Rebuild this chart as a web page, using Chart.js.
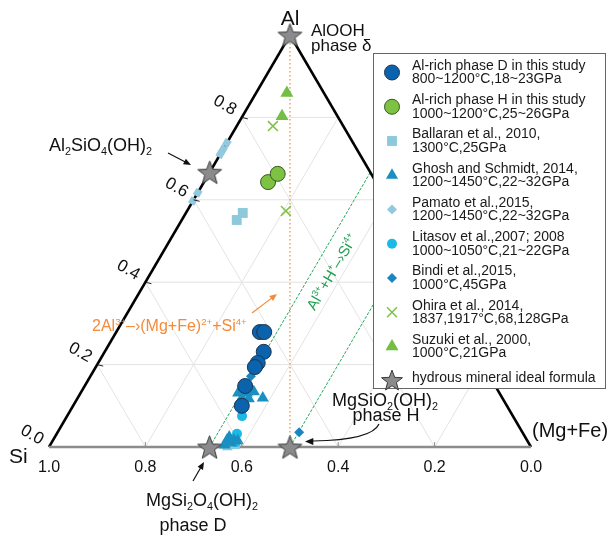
<!DOCTYPE html>
<html>
<head>
<meta charset="utf-8">
<script src="https://cdn.jsdelivr.net/npm/chart.js@4.4.0/dist/chart.umd.min.js"></script>
<style>
html, body { margin: 0; padding: 0; background: #fff; }
#wrap { width: 614px; height: 536px; }
</style>
</head>
<body>
<div id="wrap"><canvas id="ternario" width="614" height="536"></canvas></div>
<script>
const faseD = [[0.423, 0.279, 0.298], [0.414, 0.279, 0.307], [0.439, 0.231, 0.330], [0.465, 0.204, 0.331],
               [0.476, 0.194, 0.330], [0.519, 0.148, 0.333], [0.550, 0.100, 0.350]];
const faseH = [[0.224, 0.643, 0.133], [0.194, 0.663, 0.143]];
const ballaran = [[0.335, 0.551, 0.114], [0.314, 0.568, 0.118], [0.621, 0.007, 0.372], [0.611, 0.007, 0.382],
                  [0.628, 0.004, 0.368]];
const ghosh = [[0.542, 0.131, 0.327], [0.524, 0.131, 0.345], [0.508, 0.134, 0.358], [0.497, 0.119, 0.384],
               [0.527, 0.117, 0.356], [0.540, 0.119, 0.341], [0.622, 0.017, 0.361], [0.608, 0.017, 0.375],
               [0.633, 0.005, 0.362], [0.618, 0.010, 0.372], [0.601, 0.015, 0.384], [0.614, 0.024, 0.362]];
const pamato = [[0.262, 0.738, 0], [0.277, 0.723, 0], [0.289, 0.711, 0], [0.383, 0.617, 0], [0.403, 0.597, 0]];
const litasov = [[0.562, 0.075, 0.363], [0.594, 0.032, 0.374], [0.606, 0.012, 0.382]];
const bindi = [[0.495, 0.172, 0.333], [0.463, 0.036, 0.501]];
const ohira = [[0.146, 0.779, 0.075], [0.222, 0.573, 0.205]];
const suzuki = [[0.077, 0.859, 0.064], [0.115, 0.803, 0.082]];
const formulaIdeal = [[0, 1, 0], [0.333, 0.667, 0], [0.667, 0, 0.333], [0.5, 0, 0.5]];

const valoresRejilla = [0.2, 0.4, 0.6, 0.8];
const ticksSi = [1.0, 0.8, 0.6, 0.4, 0.2, 0.0];
const ticksAl = [0.0, 0.2, 0.4, 0.6, 0.8];

const etiquetasLeyenda = [
    ['Al-rich phase D in this study', '800~1200°C,18~23GPa'],
    ['Al-rich phase H in this study', '1000~1200°C,25~26GPa'],
    ['Ballaran et al., 2010,', '1300°C,25GPa'],
    ['Ghosh and Schmidt, 2014,', '1200~1450°C,22~32GPa'],
    ['Pamato et al.,2015,', '1200~1450°C,22~32GPa'],
    ['Litasov et al.,2007; 2008', '1000~1050°C,21~22GPa'],
    ['Bindi et al.,2015,', '1000°C,45GPa'],
    ['Ohira et al., 2014,', '1837,1917°C,68,128GPa'],
    ['Suzuki et al., 2000,', '1000°C,21GPa'],
    ['hydrous mineral ideal formula']
];

const FUENTE = '"Liberation Sans", Arial, sans-serif';
const fuente = (s) => s + 'px ' + FUENTE;

// Paso de composición ternaria a coordenadas (x, y) del triángulo
function aXY(c) {
    const s = c[0] + c[1] + c[2];
    return { x: (c[2] + c[1] / 2) / s, y: c[1] / s };
}

function crearEstrella(R) {
    const c = document.createElement('canvas');
    const s = Math.ceil(R * 2 + 4);
    c.width = s; c.height = s;
    const g = c.getContext('2d');
    g.translate(s / 2, s / 2 + R * 0.1);
    g.beginPath();
    for (let i = 0; i < 10; i++) {
        const r = i % 2 === 0 ? R : R * 0.42;
        const a = -Math.PI / 2 + i * Math.PI / 5;
        g.lineTo(Math.cos(a) * r, Math.sin(a) * r);
    }
    g.closePath();
    g.fillStyle = '#8b8b8e';
    g.fill();
    g.lineWidth = 1;
    g.strokeStyle = '#3a3a3a';
    g.stroke();
    return c;
}

const estrella = crearEstrella(12.5);
const estrellaLeyenda = crearEstrella(11);

// Series de puntos con su estilo
const series = [
    { datos: faseD, estilo: { pointStyle: 'circle', radius: 7.5, fondo: '#0b63ad', borde: '#1b3552', ancho: 1 }, orden: 2 },
    { datos: faseH, estilo: { pointStyle: 'circle', radius: 7.5, fondo: '#7dc243', borde: '#3a5a1f', ancho: 1 }, orden: 2 },
    { datos: ballaran, estilo: { pointStyle: 'rect', radius: 7, fondo: '#8ccadb', borde: '#8ccadb', ancho: 0 }, orden: 4 },
    { datos: ghosh, estilo: { pointStyle: 'triangle', radius: 7, fondo: '#1a8fc1', borde: '#1a8fc1', ancho: 0 }, orden: 3 },
    { datos: pamato, estilo: { pointStyle: 'rect', radius: 5, rotation: 30, fondo: '#92c9de', borde: '#92c9de', ancho: 0 }, orden: 4, rotLeyenda: 45 },
    { datos: litasov, estilo: { pointStyle: 'circle', radius: 5, fondo: '#1cb8e6', borde: '#1cb8e6', ancho: 0 }, orden: 3 },
    { datos: bindi, estilo: { pointStyle: 'rectRot', radius: 5, fondo: '#1a86c1', borde: '#1a86c1', ancho: 0 }, orden: 3 },
    { datos: ohira, estilo: { pointStyle: 'crossRot', radius: 7, fondo: '#7dc243', borde: '#7dc243', ancho: 1.5 }, orden: 3 },
    { datos: suzuki, estilo: { pointStyle: 'triangle', radius: 7.5, fondo: '#72bf44', borde: '#72bf44', ancho: 0 }, orden: 3 },
    { datos: formulaIdeal, estilo: { pointStyle: estrella, radius: 12, fondo: '#8b8b8e', borde: '#3a3a3a', ancho: 1 }, orden: 1, imgLeyenda: estrellaLeyenda }
];

function linea(a, b, color, ancho, trazo, orden) {
    return {
        type: 'scatter',
        data: [aXY(a), aXY(b)],
        showLine: true,
        pointRadius: 0,
        borderColor: color,
        borderWidth: ancho,
        borderDash: trazo || [],
        fill: false,
        clip: false,
        order: orden
    };
}

const datasets = [];

// Rejilla interior
valoresRejilla.forEach(v => {
    datasets.push(linea([1 - v, v, 0], [0, v, 1 - v], '#e3e3e3', 1, null, 30));
    datasets.push(linea([v, 1 - v, 0], [v, 0, 1 - v], '#e3e3e3', 1, null, 30));
    datasets.push(linea([1 - v, 0, v], [0, 1 - v, v], '#e3e3e3', 1, null, 30));
});

// Líneas de sustitución
datasets.push(linea([0, 1, 0], [0.5, 0, 0.5], '#f5a15a', 1.5, [1.5, 2.5], 20));
datasets.push(linea([2 / 3, 0, 1 / 3], [0, 2 / 3, 1 / 3], '#22a85a', 1, [3, 1.5], 20));
datasets.push(linea([0.5, 0, 0.5], [0, 0.5, 0.5], '#22a85a', 1, [3, 1.5], 20));

// Bordes del triángulo
datasets.push(linea([1, 0, 0], [0, 0, 1], '#8c8c8c', 2.5, null, 15));
datasets.push(linea([1, 0, 0], [0, 1, 0], '#000000', 2.5, null, 15));
datasets.push(linea([0, 1, 0], [0, 0, 1], '#000000', 2.5, null, 15));

series.forEach((s, i) => {
    datasets.push({
        type: 'scatter',
        label: etiquetasLeyenda[i].join(' '),
        data: s.datos.map(aXY),
        showLine: false,
        pointStyle: s.estilo.pointStyle,
        pointRadius: s.estilo.radius,
        pointRotation: s.estilo.rotation || 0,
        backgroundColor: s.estilo.fondo,
        borderColor: s.estilo.borde,
        borderWidth: s.estilo.ancho,
        clip: false,
        order: s.orden
    });
});

function flecha(ctx, x1, y1, x2, y2, color, cabeza) {
    const ang = Math.atan2(y2 - y1, x2 - x1);
    ctx.strokeStyle = color;
    ctx.fillStyle = color;
    ctx.lineWidth = 1.2;
    ctx.beginPath();
    ctx.moveTo(x1, y1);
    ctx.lineTo(x2 - Math.cos(ang) * cabeza * 0.8, y2 - Math.sin(ang) * cabeza * 0.8);
    ctx.stroke();
    puntaFlecha(ctx, x2, y2, ang, cabeza);
}

function puntaFlecha(ctx, x, y, ang, cabeza) {
    ctx.beginPath();
    ctx.moveTo(x, y);
    ctx.lineTo(x - Math.cos(ang - 0.4) * cabeza, y - Math.sin(ang - 0.4) * cabeza);
    ctx.lineTo(x - Math.cos(ang + 0.4) * cabeza, y - Math.sin(ang + 0.4) * cabeza);
    ctx.closePath();
    ctx.fill();
}

// Texto con subíndices y superíndices
function textoRico(ctx, partes, x, y, size, align) {
    const medir = p => { ctx.font = fuente(p[1] ? size * 0.6 : size); return ctx.measureText(p[0]).width; };
    const total = partes.reduce((s, p) => s + medir(p), 0);
    let cx = align === 'center' ? x - total / 2 : x;
    ctx.textAlign = 'left';
    ctx.textBaseline = 'alphabetic';
    partes.forEach(p => {
        const w = medir(p);
        const dy = p[1] === 'sub' ? size * 0.22 : p[1] === 'sup' ? -size * 0.4 : 0;
        ctx.fillText(p[0], cx, y + dy);
        cx += w;
    });
}

const decoracion = {
    id: 'decoracion',
    afterDatasetsDraw(chart) {
        const ctx = chart.ctx;
        const xs = chart.scales.x, ys = chart.scales.y;
        const P = c => { const q = aXY(c); return { x: xs.getPixelForValue(q.x), y: ys.getPixelForValue(q.y) }; };
        ctx.save();

        // Marcas del eje inferior
        ctx.strokeStyle = '#8c8c8c';
        ctx.lineWidth = 1;
        ticksSi.forEach(si => {
            if (si === 0 || si === 1) return;
            const p = P([si, 0, 1 - si]);
            ctx.beginPath(); ctx.moveTo(p.x, p.y); ctx.lineTo(p.x, p.y - 5); ctx.stroke();
        });
        // Marcas del eje izquierdo
        ctx.strokeStyle = '#222';
        ticksAl.forEach(al => {
            if (!al) return;
            const p = P([1 - al, al, 0]);
            ctx.beginPath(); ctx.moveTo(p.x, p.y); ctx.lineTo(p.x + 6, p.y + 1.5); ctx.stroke();
        });

        // Etiquetas de las marcas
        ctx.fillStyle = '#111';
        ctx.font = fuente(16);
        ctx.textAlign = 'center';
        ctx.textBaseline = 'alphabetic';
        ticksSi.forEach(si => {
            const p = P([si, 0, 1 - si]);
            ctx.fillText(si.toFixed(1), p.x, p.y + 25);
        });
        ticksAl.forEach(al => {
            const p = P([1 - al, al, 0]);
            ctx.save();
            ctx.translate(p.x - 17, p.y - 12);
            ctx.rotate(Math.PI / 6);
            ctx.textBaseline = 'middle';
            ctx.font = fuente(17);
            ctx.fillText(al.toFixed(1), 0, 0);
            ctx.restore();
        });

        // Vértices
        ctx.fillStyle = '#111';
        ctx.textAlign = 'center';
        ctx.font = fuente(21);
        ctx.fillText('Al', 290, 25);
        ctx.textAlign = 'left';
        ctx.fillText('Si', 9, 463);
        ctx.font = fuente(20);
        ctx.fillText('(Mg+Fe)', 532, 437);

        // Nombres de minerales
        ctx.font = fuente(17);
        ctx.fillText('AlOOH', 311, 36);
        ctx.fillText('phase δ', 311, 51);
        textoRico(ctx, [['Al', ''], ['2', 'sub'], ['SiO', ''], ['4', 'sub'], ['(OH)', ''], ['2', 'sub']], 49, 151, 18, 'left');
        flecha(ctx, 168, 153, 191, 165, '#111', 8);

        textoRico(ctx, [['MgSi', ''], ['2', 'sub'], ['O', ''], ['4', 'sub'], ['(OH)', ''], ['2', 'sub']], 202, 506, 18, 'center');
        ctx.font = fuente(18);
        ctx.textAlign = 'center';
        ctx.fillText('phase D', 193, 531);
        flecha(ctx, 193, 481, 204, 462, '#111', 8);

        textoRico(ctx, [['MgSiO', ''], ['2', 'sub'], ['(OH)', ''], ['2', 'sub']], 385, 406, 18, 'center');
        ctx.font = fuente(18);
        ctx.textAlign = 'center';
        ctx.fillText('phase H', 386, 421);
        ctx.strokeStyle = '#111';
        ctx.lineWidth = 1.2;
        ctx.beginPath();
        ctx.moveTo(379, 424);
        ctx.quadraticCurveTo(372, 440, 313, 441);
        ctx.stroke();
        ctx.fillStyle = '#111';
        puntaFlecha(ctx, 305, 441.5, Math.PI, 9);

        // Sustitución 2Al -> (Mg+Fe) + Si
        ctx.fillStyle = '#f58a3a';
        textoRico(ctx, [['2Al', ''], ['3+', 'sup'], ['–›(Mg+Fe)', ''], ['2+', 'sup'], ['+Si', ''], ['4+', 'sup']], 92, 331, 16, 'left');
        flecha(ctx, 252, 313, 277, 294, '#f58a3a', 8);

        // Sustitución Al + H -> Si, girada sobre la línea verde
        const a = P([2 / 3, 0, 1 / 3]), b = P([0, 2 / 3, 1 / 3]);
        const ang = Math.atan2(b.y - a.y, b.x - a.x);
        const base = P([1 - 0.425 - 1 / 3, 0.425, 1 / 3]);
        ctx.save();
        ctx.translate(base.x + 20, base.y);
        ctx.rotate(ang);
        ctx.fillStyle = '#1fa04f';
        textoRico(ctx, [['Al', ''], ['3+', 'sup'], ['+H', ''], ['+', 'sup'], ['–›Si', ''], ['4+', 'sup']], 0, 5, 15, 'center');
        ctx.restore();

        // Leyenda
        ctx.fillStyle = '#fff';
        ctx.fillRect(373, 53, 232, 335);
        ctx.strokeStyle = '#666';
        ctx.lineWidth = 1;
        ctx.strokeRect(373.5, 53.5, 232, 335);

        series.forEach((s, i) => {
            const lineas = etiquetasLeyenda[i];
            const y1 = lineas.length > 1 ? 66 + 34.25 * i : 378;
            const yIcono = lineas.length > 1 ? y1 + 6.5 : 380;
            ctx.fillStyle = s.estilo.fondo;
            ctx.strokeStyle = s.estilo.borde;
            ctx.lineWidth = s.estilo.ancho;
            Chart.helpers.drawPoint(ctx, {
                pointStyle: s.imgLeyenda || s.estilo.pointStyle,
                radius: s.estilo.radius,
                rotation: s.rotLeyenda !== undefined ? s.rotLeyenda : (s.estilo.rotation || 0),
                borderWidth: s.estilo.ancho
            }, 392, yIcono);
            ctx.fillStyle = '#1a1a1a';
            ctx.font = fuente(14);
            ctx.textAlign = 'left';
            ctx.textBaseline = 'middle';
            lineas.forEach((t, k) => ctx.fillText(t, 412, y1 + k * 13.5));
        });

        ctx.restore();
    }
};

new Chart(document.getElementById('ternario'), {
    type: 'scatter',
    data: { datasets: datasets },
    options: {
        responsive: false,
        animation: false,
        devicePixelRatio: 1,
        layout: { padding: { left: 49, right: 83, top: 35, bottom: 89 } },
        scales: {
            x: { type: 'linear', min: 0, max: 1, display: false },
            y: { type: 'linear', min: 0, max: 1, display: false }
        },
        plugins: {
            legend: { display: false },
            tooltip: { enabled: false }
        },
        elements: { line: { tension: 0 } }
    },
    plugins: [decoracion]
});
</script>
</body>
</html>
